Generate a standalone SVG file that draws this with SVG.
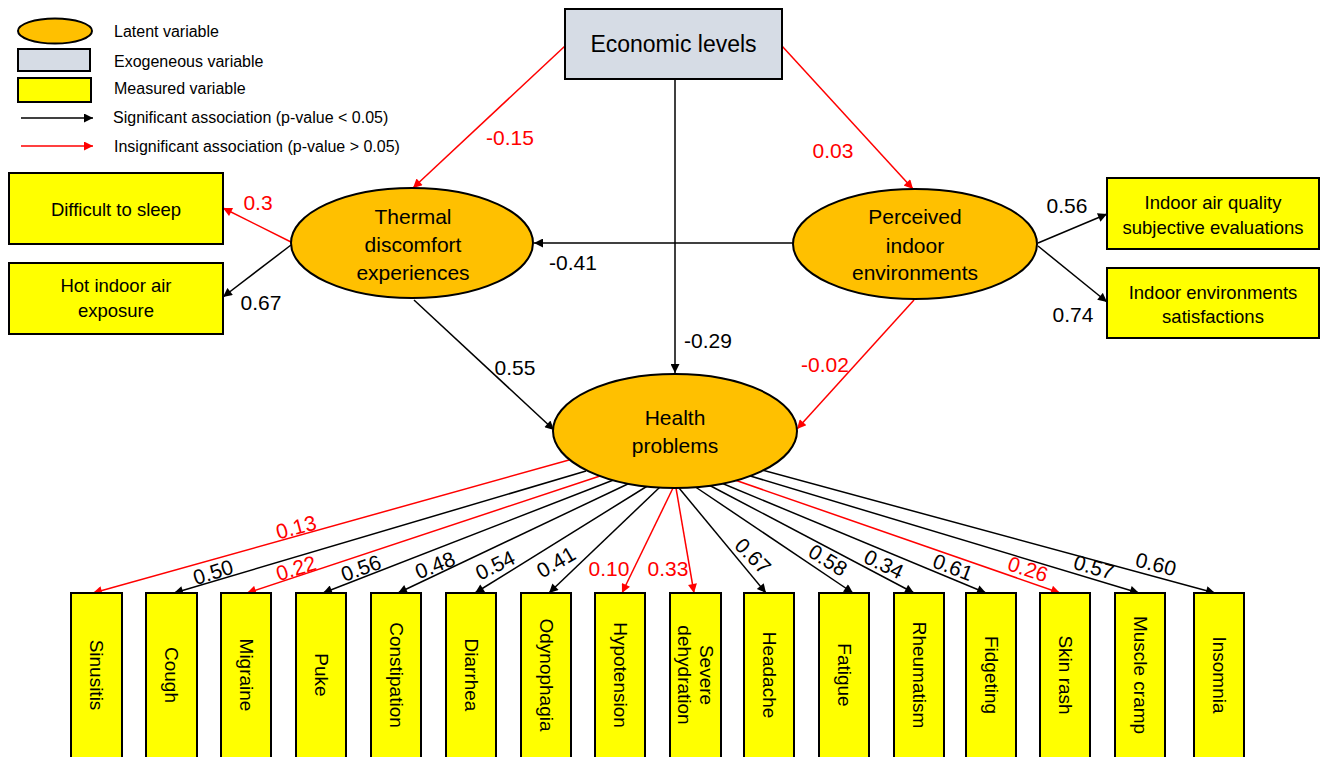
<svg xmlns="http://www.w3.org/2000/svg" width="1324" height="757" viewBox="0 0 1324 757">
<defs>
<style>
text{font-family:"Liberation Sans",Arial,sans-serif;fill:#000}
.lat{fill:#FFC000;stroke:#000;stroke-width:2}
.exo{fill:#D6DCE5;stroke:#000;stroke-width:2}
.mea{fill:#FFFF00;stroke:#000;stroke-width:2}
.blk{stroke:#000;stroke-width:1.5;fill:none;marker-end:url(#ab)}
.red{stroke:#FF0000;stroke-width:1.5;fill:none;marker-end:url(#ar)}
.lg{font-size:16px}
.nt{font-size:21px;text-anchor:middle}
.bt{font-size:18.5px;text-anchor:middle}
.vt{font-size:19px;text-anchor:middle;dominant-baseline:central}
.cf{font-size:21px;text-anchor:middle;dominant-baseline:central}
.cr{fill:#FF0000}
</style>
<marker id="ab" viewBox="0 0 10 10" refX="10" refY="5" markerWidth="11" markerHeight="9" markerUnits="userSpaceOnUse" orient="auto"><path d="M0,0 L10,5 L0,10 z" fill="#000"/></marker>
<marker id="ar" viewBox="0 0 10 10" refX="10" refY="5" markerWidth="11" markerHeight="9" markerUnits="userSpaceOnUse" orient="auto"><path d="M0,0 L10,5 L0,10 z" fill="#FF0000"/></marker>
</defs>
<rect width="1324" height="757" fill="#fff"/>

<g id="legend">
<ellipse class="lat" cx="55" cy="31" rx="37" ry="12.5"/>
<rect class="exo" x="18" y="49" width="72" height="22"/>
<rect class="mea" x="18" y="78" width="73" height="24"/>
<line class="blk" x1="21" y1="118" x2="93" y2="118"/>
<line class="red" x1="21" y1="146" x2="93" y2="146"/>
<text class="lg" x="114" y="37">Latent variable</text>
<text class="lg" x="114" y="67">Exogeneous variable</text>
<text class="lg" x="114" y="94">Measured variable</text>
<text class="lg" x="113" y="123">Significant association (p-value &lt; 0.05)</text>
<text class="lg" x="114" y="152">Insignificant association (p-value &gt; 0.05)</text>
</g>

<g id="connectors">
<line class="red" x1="565" y1="46" x2="413" y2="188"/>
<line class="red" x1="782" y1="46" x2="913" y2="189"/>
<line class="blk" x1="675" y1="79" x2="675" y2="373"/>
<line class="blk" x1="793" y1="243" x2="534" y2="243"/>
<line class="red" x1="291" y1="242" x2="223" y2="208"/>
<line class="blk" x1="291" y1="245" x2="223" y2="297"/>
<line class="blk" x1="414" y1="300" x2="554" y2="430"/>
<line class="red" x1="914" y1="300" x2="797" y2="429"/>
<line class="blk" x1="1038" y1="243" x2="1107" y2="214"/>
<line class="blk" x1="1038" y1="246" x2="1107" y2="302"/>

<line class="red" x1="569" y1="460" x2="93" y2="593"/>
<line class="blk" x1="586" y1="471" x2="174" y2="593"/>
<line class="red" x1="603" y1="475" x2="247" y2="593"/>
<line class="blk" x1="616" y1="479" x2="323" y2="593"/>
<line class="blk" x1="632" y1="482" x2="398" y2="593"/>
<line class="blk" x1="649" y1="485" x2="475" y2="593"/>
<line class="blk" x1="660" y1="487" x2="549" y2="593"/>
<line class="red" x1="673" y1="488" x2="622" y2="593"/>
<line class="red" x1="676" y1="488" x2="694" y2="593"/>
<line class="blk" x1="679" y1="488" x2="766" y2="593"/>
<line class="blk" x1="694" y1="486" x2="853" y2="593"/>
<line class="blk" x1="707" y1="484" x2="914" y2="593"/>
<line class="blk" x1="719" y1="482" x2="986" y2="593"/>
<line class="red" x1="732" y1="479" x2="1060" y2="593"/>
<line class="blk" x1="747" y1="475" x2="1139" y2="593"/>
<line class="blk" x1="762" y1="470" x2="1215" y2="593"/>

<text class="cf cr" x="510" y="137">-0.15</text>
<text class="cf cr" x="833" y="150">0.03</text>
<text class="cf" x="708" y="340">-0.29</text>
<text class="cf" x="573" y="262">-0.41</text>
<text class="cf cr" x="258" y="202">0.3</text>
<text class="cf" x="261" y="302">0.67</text>
<text class="cf" x="515" y="367">0.55</text>
<text class="cf cr" x="825" y="364">-0.02</text>
<text class="cf" x="1067" y="205">0.56</text>
<text class="cf" x="1073" y="314">0.74</text>

<text class="cf cr" transform="translate(296,527) rotate(-15)">0.13</text>
<text class="cf" transform="translate(213,572) rotate(-17)">0.50</text>
<text class="cf cr" transform="translate(296,568) rotate(-17)">0.22</text>
<text class="cf" transform="translate(361,568) rotate(-20)">0.56</text>
<text class="cf" transform="translate(435,565) rotate(-22)">0.48</text>
<text class="cf" transform="translate(495,565) rotate(-26)">0.54</text>
<text class="cf" transform="translate(556,562) rotate(-30)">0.41</text>
<text class="cf cr" x="609" y="568">0.10</text>
<text class="cf cr" x="668" y="568">0.33</text>
<text class="cf" transform="translate(753,556) rotate(45)">0.67</text>
<text class="cf" transform="translate(828,560) rotate(32)">0.58</text>
<text class="cf" transform="translate(884,564) rotate(26)">0.34</text>
<text class="cf" transform="translate(953,567) rotate(21)">0.61</text>
<text class="cf cr" transform="translate(1028,569) rotate(18)">0.26</text>
<text class="cf" transform="translate(1094,567) rotate(16)">0.57</text>
<text class="cf" transform="translate(1156,564) rotate(14)">0.60</text>
</g>

<g id="economic-levels">
<rect class="exo" x="565" y="9" width="217" height="70"/>
<text x="673.5" y="52" style="font-size:23px;text-anchor:middle">Economic levels</text>
</g>

<g id="thermal-discomfort">
<ellipse class="lat" cx="412" cy="243" rx="121" ry="55"/>
<text class="nt" x="413" y="224">Thermal</text>
<text class="nt" x="413" y="252">discomfort</text>
<text class="nt" x="413" y="280">experiences</text>
</g>

<g id="perceived-indoor">
<ellipse class="lat" cx="915" cy="244" rx="122" ry="55"/>
<text class="nt" x="915" y="224">Perceived</text>
<text class="nt" x="915" y="253">indoor</text>
<text class="nt" x="915" y="280">environments</text>
</g>

<g id="health-problems">
<ellipse class="lat" cx="675" cy="431" rx="122" ry="57"/>
<text class="nt" x="675" y="425">Health</text>
<text class="nt" x="675" y="453">problems</text>
</g>

<g id="difficult-sleep">
<rect class="mea" x="9" y="173" width="214" height="71"/>
<text class="bt" x="116" y="216">Difficult to sleep</text>
</g>
<g id="hot-indoor">
<rect class="mea" x="9" y="263" width="214" height="71"/>
<text class="bt" x="116" y="292">Hot indoor air</text>
<text class="bt" x="116" y="317">exposure</text>
</g>
<g id="iaq">
<rect class="mea" x="1107" y="178" width="212" height="71"/>
<text class="bt" x="1213" y="209">Indoor air quality</text>
<text class="bt" x="1213" y="234">subjective evaluations</text>
</g>
<g id="satisfactions">
<rect class="mea" x="1107" y="268" width="212" height="70"/>
<text class="bt" x="1213" y="299">Indoor environments</text>
<text class="bt" x="1213" y="323">satisfactions</text>
</g>

<g id="sinusitis"><rect class="mea" x="71" y="593" width="51" height="180"/><text class="vt" transform="translate(96.5,675) rotate(90)">Sinusitis</text></g>
<g id="cough"><rect class="mea" x="146" y="593" width="51" height="180"/><text class="vt" transform="translate(171.5,675) rotate(90)">Cough</text></g>
<g id="migraine"><rect class="mea" x="221" y="593" width="50" height="180"/><text class="vt" transform="translate(246,675) rotate(90)">Migraine</text></g>
<g id="puke"><rect class="mea" x="296" y="593" width="50" height="180"/><text class="vt" transform="translate(321,675) rotate(90)">Puke</text></g>
<g id="constipation"><rect class="mea" x="371" y="593" width="50" height="180"/><text class="vt" transform="translate(396,675) rotate(90)">Constipation</text></g>
<g id="diarrhea"><rect class="mea" x="446" y="593" width="50" height="180"/><text class="vt" transform="translate(471,675) rotate(90)">Diarrhea</text></g>
<g id="odynophagia"><rect class="mea" x="521" y="593" width="50" height="180"/><text class="vt" transform="translate(546,675) rotate(90)">Odynophagia</text></g>
<g id="hypotension"><rect class="mea" x="595" y="593" width="50" height="180"/><text class="vt" transform="translate(620,675) rotate(90)">Hypotension</text></g>
<g id="severe-dehydration"><rect class="mea" x="670" y="593" width="51" height="180"/><text class="vt" transform="translate(695.5,675) rotate(90)"><tspan x="0" y="-11">Severe</tspan><tspan x="0" y="11">dehydration</tspan></text></g>
<g id="headache"><rect class="mea" x="744" y="593" width="50" height="180"/><text class="vt" transform="translate(769,675) rotate(90)">Headache</text></g>
<g id="fatigue"><rect class="mea" x="819" y="593" width="50" height="180"/><text class="vt" transform="translate(844,675) rotate(90)">Fatigue</text></g>
<g id="rheumatism"><rect class="mea" x="894" y="593" width="50" height="180"/><text class="vt" transform="translate(919,675) rotate(90)">Rheumatism</text></g>
<g id="fidgeting"><rect class="mea" x="966" y="593" width="50" height="180"/><text class="vt" transform="translate(991,675) rotate(90)">Fidgeting</text></g>
<g id="skin-rash"><rect class="mea" x="1040" y="593" width="50" height="180"/><text class="vt" transform="translate(1065,675) rotate(90)">Skin rash</text></g>
<g id="muscle-cramp"><rect class="mea" x="1115" y="593" width="50" height="180"/><text class="vt" transform="translate(1140,675) rotate(90)">Muscle cramp</text></g>
<g id="insomnia"><rect class="mea" x="1194" y="593" width="50" height="180"/><text class="vt" transform="translate(1219,675) rotate(90)">Insomnia</text></g>
</svg>
